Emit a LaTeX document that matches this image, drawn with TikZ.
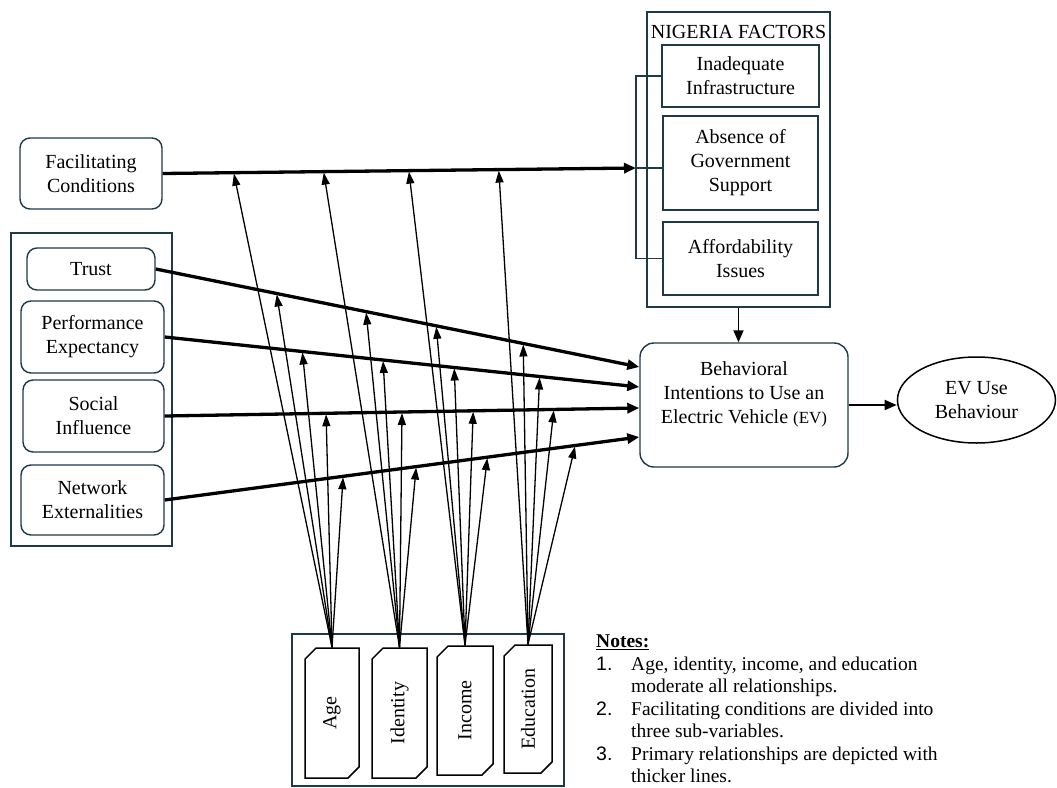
\documentclass[tikz,border=0pt]{standalone}
\usepackage{fontspec}
\setmainfont{Liberation Serif}
\newfontfamily\numfont{Liberation Sans}
\usepackage{graphicx}
\usetikzlibrary{positioning, shapes.geometric, shapes.misc, arrows.meta}
\definecolor{frameblue}{HTML}{1C3A4A}

\begin{document}
\begin{tikzpicture}[x=1pt, y=-1pt,
    txt/.style={font=\fontsize{20}{24}\selectfont, align=center, inner sep=0pt},
    rbox/.style={txt, draw=frameblue, line width=1.4pt, rounded corners=10pt},
    sbox/.style={txt, draw=frameblue, line width=2pt},
    grpbox/.style={draw=frameblue, line width=1.2pt, inner sep=0pt},
    link/.style={draw=frameblue, line width=1.2pt},
    modbox/.style={txt, draw=black, line width=1.5pt, chamfered rectangle,
      chamfered rectangle xsep=8pt, chamfered rectangle corners={north west, south east}},
    primary/.style={line width=3.3pt, -{Triangle[length=12pt,width=10pt]}},
    modarr/.style={line width=1.3pt, -{Triangle[length=12pt,width=8pt]}, shorten >=1pt},
    thinarr/.style={line width=1.8pt, -{Triangle[length=12pt,width=10pt]}},
  ]
  \useasboundingbox[fill=white] (0,0) rectangle (1057,787);

  %left side
  \node[rbox, minimum width=142pt, minimum height=71pt] (fc) at (91,173.5) {Facilitating\\Conditions};
  \node[grpbox, minimum width=161pt, minimum height=313pt] (grp) at (91.5,389.5) {};
  \node[rbox, minimum width=128pt, minimum height=42pt] (trust) at (91,269) {Trust};
  \node[rbox, minimum width=143pt, minimum height=72pt] (pe) at (92.5,337) {Performance\\Expectancy};
  \node[rbox, minimum width=141pt, minimum height=72pt] (si) at (93.5,416) {Social\\Influence};
  \node[rbox, minimum width=143pt, minimum height=70pt] (ne) at (92.5,500) {Network\\Externalities};

  %Nigeria factors
  \node[grpbox, minimum width=183pt, minimum height=295pt] (nf) at (738.5,159.5) {};
  \node[txt, below=14pt of nf.north] (nftitle) {NIGERIA FACTORS};
  \node[sbox, minimum width=157pt, minimum height=62pt] (infra) at (740.5,76) {Inadequate\\Infrastructure};
  \node[sbox, minimum width=155pt, minimum height=94pt] (govt) at (740.5,163) {Absence of\\Government\\Support};
  \node[sbox, minimum width=155pt, minimum height=73pt] (afford) at (740.5,258.5) {Affordability\\Issues};
  \coordinate (brk) at (636,168);
  \draw[link] (infra.west) -- (infra.west -| brk) -- (afford.west -| brk) -- (afford.west);
  \draw[link] (brk) -- (brk -| govt.west);

  %outcome
  \node[rbox, rounded corners=14pt, minimum width=208pt, minimum height=124pt] (bi) at (744,405)
    {Behavioral\\Intentions to Use an\\Electric Vehicle {\fontsize{17}{24}\selectfont(EV)}\\~};
  \node[txt, draw=black, line width=1.5pt, ellipse, minimum width=158pt, minimum height=86pt,
    right=48pt of bi, yshift=5pt] (evb) {EV Use\\Behaviour};
  \draw[thinarr] (bi.east) -- (bi.east -| evb.west);
  \draw[thinarr] (nf.south) -- (nf.south |- bi.north);

  %moderators
  \node[grpbox, minimum width=272pt, minimum height=152pt] (modgrp) at (428,710) {};
  \node[modbox, minimum width=54pt, minimum height=130pt] (age) at (332,713) {\rotatebox{90}{Age}};
  \node[modbox, minimum width=55pt, minimum height=130pt] (ident) at (399.5,713) {\rotatebox{90}{Identity}};
  \node[modbox, minimum width=56pt, minimum height=129pt] (income) at (465,710.5) {\rotatebox{90}{Income}};
  \node[modbox, minimum width=48pt, minimum height=128pt] (edu) at (528,709) {\rotatebox{90}{Education}};

  %primary relationships
  \draw[primary] (fc.east) -- (brk) coordinate[pos=.15] (fc-age) coordinate[pos=.34] (fc-ident)
    coordinate[pos=.52] (fc-income) coordinate[pos=.71] (fc-edu);
  \draw[primary] (trust.east) -- ([yshift=38pt]bi.west) coordinate[pos=.25] (tr-age)
    coordinate[pos=.435] (tr-ident) coordinate[pos=.58] (tr-income) coordinate[pos=.76] (tr-edu);
  \draw[primary] (pe.east) -- ([yshift=18pt]bi.west) coordinate[pos=.29] (pe-age)
    coordinate[pos=.46] (pe-ident) coordinate[pos=.61] (pe-income) coordinate[pos=.79] (pe-edu);
  \draw[primary] (si.east) -- ([yshift=-3pt]bi.west) coordinate[pos=.34] (si-age)
    coordinate[pos=.50] (si-ident) coordinate[pos=.65] (si-income) coordinate[pos=.82] (si-edu);
  \draw[primary] (ne.east) -- ([yshift=-32pt]bi.west) coordinate[pos=.376] (ne-age)
    coordinate[pos=.53] (ne-ident) coordinate[pos=.68] (ne-income) coordinate[pos=.865] (ne-edu);

  \foreach \m in {age,ident,income,edu}
    \foreach \p in {fc,tr,pe,si,ne}
      \draw[modarr] (\m.north) -- (\p-\m);

  \node[anchor=north west, inner sep=0pt, font=\fontsize{19.5}{22.5}\selectfont] (notes) at (596,632) {%
    \begin{tabular}{@{}p{35pt}@{}l@{}}
      \multicolumn{2}{@{}l@{}}{\underline{\textbf{Notes:}}}\\
      {\numfont 1.} & Age, identity, income, and education\\
       & moderate all relationships.\\
      {\numfont 2.} & Facilitating conditions are divided into\\
       & three sub-variables.\\
      {\numfont 3.} & Primary relationships are depicted with\\
       & thicker lines.
    \end{tabular}};
\end{tikzpicture}
\end{document}
